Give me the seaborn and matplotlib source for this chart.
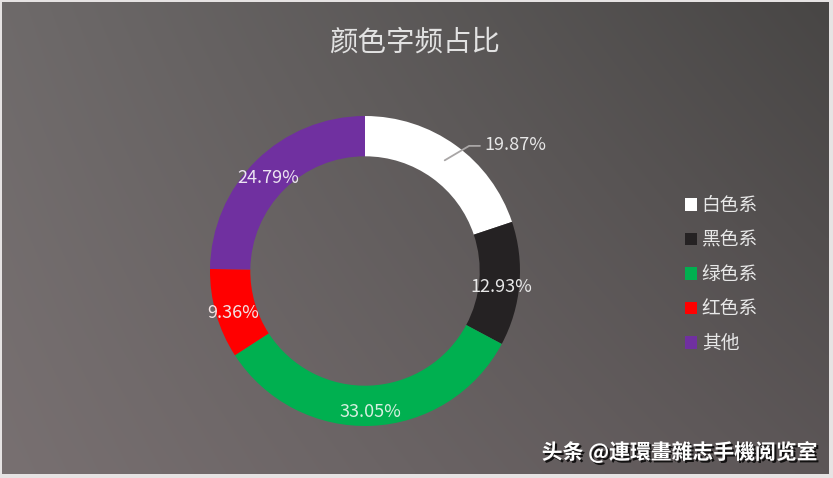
import numpy as np
import seaborn as sns
import matplotlib.pyplot as plt
import matplotlib.patheffects as pe
from matplotlib.patches import Patch

# data
categories = ['白色系', '黑色系', '绿色系', '红色系', '其他']
shares = [19.87, 12.93, 33.05, 9.36, 24.79]
colors = ['#ffffff', '#252223', '#00b050', '#ff0000', '#7030a0']
title = '颜色字频占比'
watermark = '头条 @連環畫雜志手機阅览室'

sns.set_theme(style='white')
plt.rcParams['font.family'] = ['Noto Sans CJK SC', 'DejaVu Sans']

W, H = 833, 478
fig = plt.figure(figsize=(W / 100, H / 100), dpi=100, facecolor='#e6e3e3')

# gradient background
bg = fig.add_axes([2 / W, 4 / H, 826 / W, 472 / H])
corners = np.array([[[0x6e, 0x6a, 0x6a], [0x48, 0x46, 0x45]],
                    [[0x78, 0x70, 0x71], [0x5c, 0x56, 0x57]]], dtype=float) / 255
ny, nx = 120, 200
v = np.linspace(0, 1, ny)[:, None, None]
u = np.linspace(0, 1, nx)[None, :, None]
img = ((1 - v) * (1 - u) * corners[0, 0] + (1 - v) * u * corners[0, 1]
       + v * (1 - u) * corners[1, 0] + v * u * corners[1, 1])
bg.imshow(img, aspect='auto', interpolation='bilinear', extent=(0, 1, 0, 1))
bg.set_axis_off()

# donut
cx, cy, R = 365, H - 271, 155
ax = fig.add_axes([(cx - R) / W, (cy - R) / H, 2 * R / W, 2 * R / H])
ax.set_facecolor('none')
wedges, _ = ax.pie(shares, colors=colors, startangle=90, counterclock=False,
                   radius=1, wedgeprops=dict(width=0.26, linewidth=0))
ax.set_xlim(-1, 1)
ax.set_ylim(-1, 1)
ax.set_aspect('equal')
ax.set_axis_off()

label_colors = ['#e8e8e8', '#e8e8e8', '#d6efe0', '#f2e4e4', '#ece4f2']
for w, s, lc in zip(wedges, shares, label_colors):
    ang = np.deg2rad((w.theta1 + w.theta2) / 2)
    txt = f'{s:.2f}%'
    if s == shares[0]:
        elb = ang - np.deg2rad(4)
        x0, y0 = 0.88 * np.cos(ang), 0.88 * np.sin(ang)
        x1, y1 = 1.05 * np.cos(elb), 1.05 * np.sin(elb)
        ax.plot([x0, x1, x1 + 0.07], [y0, y1, y1], color='#a9a6a6',
                lw=1.3, clip_on=False)
        ax.annotate(txt, (x1 + 0.1, y1), xytext=(0, 1), textcoords='offset points',
                    ha='left', va='center', fontsize=13, color=lc)
    else:
        ax.annotate(txt, (0.885 * np.cos(ang), 0.885 * np.sin(ang)), xytext=(0, -3),
                    textcoords='offset points', ha='center', va='center',
                    fontsize=13, color=lc)

fig.text(415 / W, 1 - 43 / H, title, ha='center', va='center', fontsize=20.5,
         color='#e2e2e2')

handles = [Patch(facecolor=c, edgecolor='none', label=l) for c, l in zip(colors, categories)]
leg = fig.legend(handles=handles, loc='upper left', bbox_to_anchor=(668 / W, 1 - 178 / H),
                 frameon=False, fontsize=13.5, labelcolor='#e8e8e8', handlelength=0.65,
                 handleheight=0.65, handletextpad=0.25, labelspacing=0.72)

fig.text(818 / W, 1 - 452 / H, watermark, ha='right', va='center', fontsize=15,
         color='white', fontweight='bold',
         path_effects=[pe.withSimplePatchShadow(offset=(1.5, -1.5), shadow_rgbFace='black', alpha=0.8)])

fig.savefig('out.png', dpi=100, facecolor=fig.get_facecolor())
